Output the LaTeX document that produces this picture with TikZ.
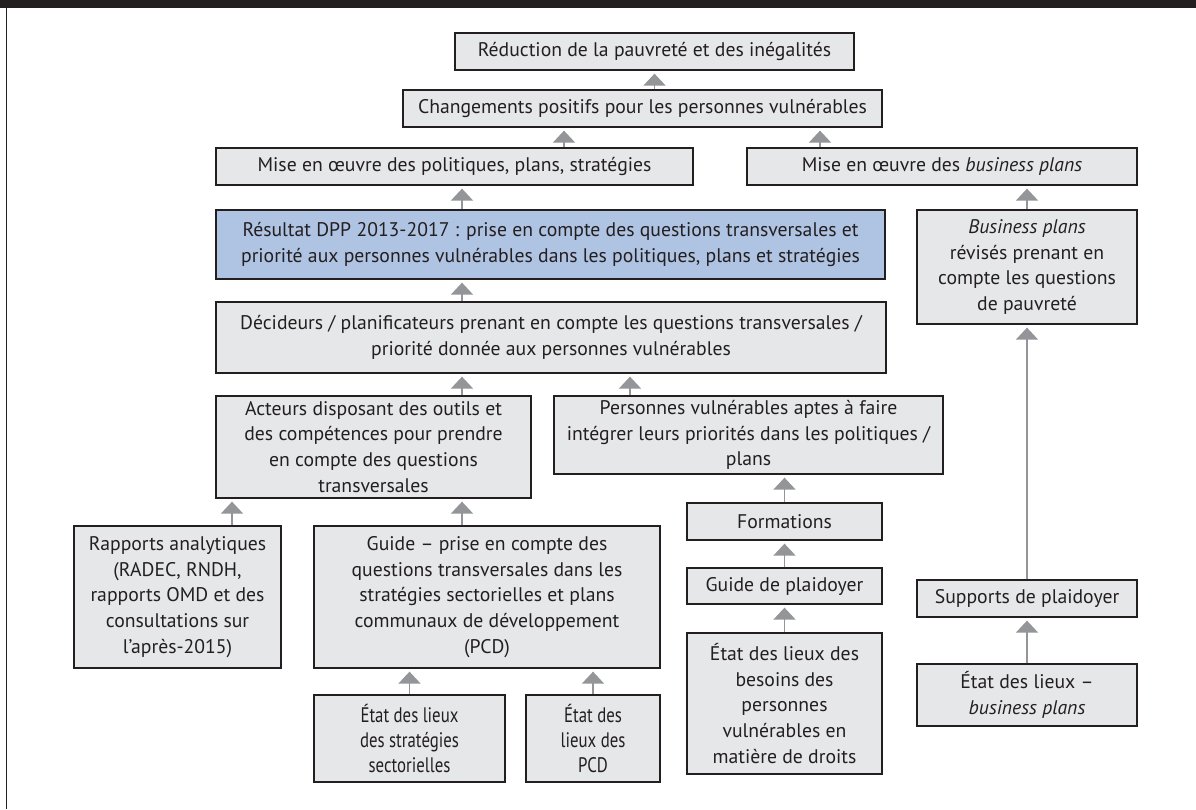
\documentclass[tikz,border=0pt]{standalone}
\usepackage{fontspec}
\setmainfont{PT Sans}
\newfontfamily\condfont[FakeStretch=0.8]{PT Sans}
\usetikzlibrary{arrows.meta}
\definecolor{boxfill}{HTML}{E6E7E8}
\definecolor{boxline}{HTML}{231F20}
\definecolor{bluefill}{HTML}{AFC3E2}
\definecolor{arrowgray}{HTML}{939598}
\definecolor{barcol}{HTML}{231F20}
\begin{document}
\begin{tikzpicture}[x=1pt,y=-1pt,
  box/.style={draw=boxline, fill=boxfill, line width=1.3pt, align=center,
    inner sep=0pt, font=\fontsize{19.7}{25.8}\selectfont, text=boxline},
  bluebox/.style={box, fill=bluefill},
  condbox/.style={box, font=\condfont\fontsize{21}{25.4}\selectfont},
  conn/.style={draw=arrowgray, line width=1.8pt,
    -{Triangle[width=22pt,length=12pt]}, shorten >=3pt}]
\useasboundingbox (0,0) rectangle (1196,809);
\fill[white] (0,0) rectangle (1196,809);
% frame
\fill[barcol] (0,0) rectangle (1196,8);
\draw[barcol, line width=1.5pt] (6.5,8) -- (6.5,809);

% nodes
\node[box, minimum width=399pt, minimum height=37pt] (A) at (654.5,51.5)
  {Réduction de la pauvreté et des inégalités};
\node[box, minimum width=479pt, minimum height=37pt] (B) at (642.5,108.5)
  {Changements positifs pour les personnes vulnérables};
\node[box, minimum width=477pt, minimum height=37pt] (C) at (454.5,166.5)
  {Mise en œuvre des politiques, plans, stratégies};
\node[box, minimum width=390pt, minimum height=37pt] (D) at (942,166.5)
  {Mise en œuvre des \textit{business plans}};
\node[bluebox, minimum width=669pt, minimum height=69pt] (E) at (550.5,244.5)
  {Résultat DPP 2013-2017 : prise en compte des questions transversales et\\
   priorité aux personnes vulnérables dans les politiques, plans et stratégies};
\node[box, minimum width=220pt, minimum height=114pt] (F) at (1027,267)
  {\textit{Business plans}\\ révisés prenant en\\ compte les questions\\ de pauvreté};
\node[box, minimum width=670pt, minimum height=71pt] (G) at (551,337.5)
  {Décideurs / planificateurs prenant en compte les questions transversales /\\
   priorité donnée aux personnes vulnérables};
\node[box, minimum width=315pt, minimum height=102pt] (H) at (373.5,447)
  {Acteurs disposant des outils et\\ des compétences pour prendre\\
   en compte des questions\\ transversales};
\node[box, minimum width=389pt, minimum height=78pt] (I) at (748.5,435)
  {Personnes vulnérables aptes à faire\\ intégrer leurs priorités dans les politiques /\\ plans};
\node[box, minimum width=207pt, minimum height=142pt] (J) at (177.5,597)
  {Rapports analytiques\\ (RADEC, RNDH,\\ rapports OMD et des\\ consultations sur\\ l’après-2015)};
\node[box, minimum width=346pt, minimum height=142pt] (K) at (487,597)
  {Guide – prise en compte des\\ questions transversales dans les\\
   stratégies sectorielles et plans\\ communaux de développement\\ (PCD)};
\node[box, minimum width=195pt, minimum height=37pt] (L) at (784.5,521.5)
  {Formations};
\node[box, minimum width=195pt, minimum height=36pt] (M) at (784.5,586)
  {Guide de plaidoyer};
\node[box, minimum width=220pt, minimum height=37pt] (N) at (1027,598.5)
  {Supports de plaidoyer};
\node[condbox, minimum width=191pt, minimum height=87pt] (O) at (409.5,738.5)
  {État des lieux\\ des stratégies\\ sectorielles};
\node[condbox, minimum width=134pt, minimum height=87pt] (P) at (593,738.5)
  {État des\\ lieux des\\ PCD};
\node[box, minimum width=195pt, minimum height=141pt] (Q) at (784.5,703.5)
  {État des lieux des\\ besoins des\\ personnes\\ vulnérables en\\ matière de droits};
\node[box, minimum width=220pt, minimum height=62pt] (R) at (1027,695)
  {État des lieux –\\ \textit{business plans}};

% x positions of connectors
\coordinate (xa) at (654.5,0);
\coordinate (xbc) at (564,0);
\coordinate (xbd) at (820,0);
\coordinate (xm) at (462,0);
\coordinate (xi) at (630,0);
\coordinate (xj) at (232,0);
\coordinate (xr) at (1027,0);
\coordinate (xl) at (784.5,0);

% connectors
\draw[conn] (B.north -| xa) -- (A.south -| xa);
\draw[conn] (C.north -| xbc) -- (B.south -| xbc);
\draw[conn] (D.north -| xbd) -- (B.south -| xbd);
\draw[conn] (E.north -| xm) -- (C.south -| xm);
\draw[conn] (F.north -| xr) -- (D.south -| xr);
\draw[conn] (G.north -| xm) -- (E.south -| xm);
\draw[conn] (H.north -| xm) -- (G.south -| xm);
\draw[conn] (I.north -| xi) -- (G.south -| xi);
\draw[conn] (J.north -| xj) -- (H.south -| xj);
\draw[conn] (K.north -| xm) -- (H.south -| xm);
\draw[conn] (O.north) -- (O.north |- K.south);
\draw[conn] (P.north) -- (P.north |- K.south);
\draw[conn] (L.north -| xl) -- (I.south -| xl);
\draw[conn] (M.north -| xl) -- (L.south -| xl);
\draw[conn] (Q.north -| xl) -- (M.south -| xl);
\draw[conn] (N.north -| xr) -- (F.south -| xr);
\draw[conn] (R.north -| xr) -- (N.south -| xr);
\end{tikzpicture}
\end{document}
